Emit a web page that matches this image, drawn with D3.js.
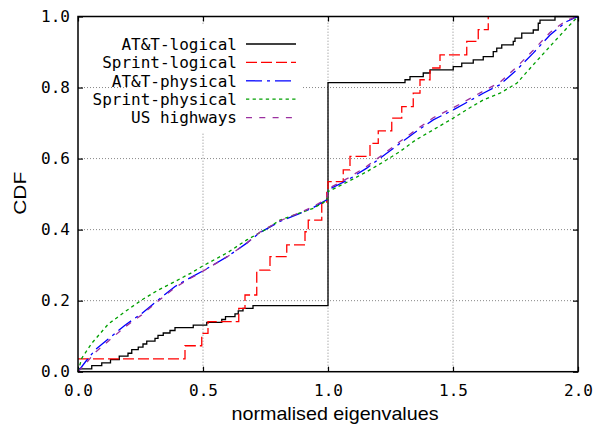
<!DOCTYPE html>
<html><head><meta charset="utf-8">
<script src="https://cdn.jsdelivr.net/npm/d3@7"></script>
<style>
html,body{margin:0;padding:0;background:#fff;}
svg{display:block;}
</style>
</head><body>
<svg id="chart" width="607" height="426"></svg>
<script>
// ---- data ----
const seriesNames = ["AT&T-logical", "Sprint-logical", "AT&T-physical", "Sprint-physical", "US highways"];
const xTickValues = [0, 0.5, 1.0, 1.5, 2.0];
const xTickLabels = ["0.0", "0.5", "1.0", "1.5", "2.0"];
const yTickValues = [0, 0.2, 0.4, 0.6, 0.8, 1.0];
const yTickLabels = ["0.0", "0.2", "0.4", "0.6", "0.8", "1.0"];
const xTitle = "normalised eigenvalues";
const yTitle = "CDF";

// AT&T-logical (step CDF)
const attLogicalX = [0, 0.055, 0.095, 0.13, 0.165, 0.2, 0.215, 0.241, 0.26, 0.275, 0.308, 0.32, 0.341, 0.368, 0.388, 0.461, 0.515, 0.575, 0.59, 0.628, 0.641, 0.66, 0.70, 1.0, 1.308, 1.328, 1.381, 1.408, 1.501, 1.535, 1.581, 1.621, 1.661, 1.675, 1.695, 1.741, 1.748, 1.775, 1.821, 1.841, 1.848, 1.908, 2.0];
const attLogicalY = [0.008, 0.017, 0.025, 0.034, 0.044, 0.052, 0.062, 0.069, 0.078, 0.086, 0.094, 0.102, 0.109, 0.116, 0.124, 0.131, 0.139, 0.147, 0.155, 0.163, 0.171, 0.178, 0.186, 0.814, 0.822, 0.831, 0.841, 0.85, 0.859, 0.869, 0.878, 0.887, 0.901, 0.911, 0.92, 0.93, 0.939, 0.953, 0.962, 0.981, 0.99, 1.0, 1.0];

// Sprint-logical (step CDF)
const sprintLogicalX = [0, 0.428, 0.495, 0.52, 0.643, 0.668, 0.715, 0.768, 0.835, 0.908, 0.921, 0.975, 0.995, 1.0, 1.061, 1.088, 1.168, 1.201, 1.255, 1.295, 1.341, 1.368, 1.408, 1.448, 1.555, 1.601, 1.641];
const sprintLogicalY = [0.036, 0.073, 0.108, 0.141, 0.178, 0.216, 0.286, 0.324, 0.357, 0.394, 0.427, 0.474, 0.512, 0.535, 0.568, 0.606, 0.643, 0.678, 0.714, 0.746, 0.784, 0.822, 0.855, 0.892, 0.93, 0.963, 1.0];

// AT&T-physical
const attPhysicalX = [0, 0.03, 0.068, 0.121, 0.188, 0.255, 0.321, 0.388, 0.45, 0.5, 0.6, 0.675, 0.728, 0.808, 0.888, 0.941, 0.995, 1.0, 1.08, 1.155, 1.22, 1.288, 1.35, 1.421, 1.501, 1.56, 1.621, 1.688, 1.755, 1.821, 1.888, 1.955, 2.0];
const attPhysicalY = [0.0, 0.028, 0.061, 0.092, 0.131, 0.164, 0.202, 0.24, 0.265, 0.284, 0.325, 0.362, 0.392, 0.423, 0.446, 0.462, 0.484, 0.512, 0.54, 0.573, 0.607, 0.643, 0.675, 0.709, 0.737, 0.76, 0.784, 0.808, 0.85, 0.897, 0.948, 0.986, 1.0];

// Sprint-physical
const sprintPhysicalX = [0, 0.015, 0.055, 0.121, 0.188, 0.255, 0.321, 0.388, 0.45, 0.5, 0.6, 0.675, 0.75, 0.808, 0.88, 0.941, 0.995, 1.0, 1.08, 1.155, 1.22, 1.288, 1.35, 1.421, 1.501, 1.56, 1.621, 1.688, 1.755, 1.821, 1.888, 1.955, 2.0];
const sprintPhysicalY = [0, 0.038, 0.08, 0.134, 0.169, 0.202, 0.23, 0.254, 0.277, 0.298, 0.336, 0.371, 0.4, 0.427, 0.445, 0.46, 0.482, 0.507, 0.535, 0.563, 0.59, 0.62, 0.652, 0.681, 0.714, 0.74, 0.765, 0.784, 0.812, 0.864, 0.916, 0.967, 1.0];

// US highways
const usHighwaysX = [0, 0.03, 0.068, 0.121, 0.188, 0.255, 0.321, 0.388, 0.45, 0.5, 0.6, 0.675, 0.728, 0.808, 0.888, 0.941, 0.995, 1.0, 1.08, 1.155, 1.22, 1.288, 1.35, 1.421, 1.501, 1.56, 1.621, 1.688, 1.755, 1.821, 1.888, 1.955, 2.0];
const usHighwaysY = [0, 0.022, 0.054, 0.086, 0.126, 0.16, 0.199, 0.237, 0.263, 0.283, 0.325, 0.362, 0.393, 0.425, 0.448, 0.465, 0.487, 0.515, 0.545, 0.578, 0.612, 0.648, 0.68, 0.715, 0.743, 0.766, 0.79, 0.815, 0.858, 0.905, 0.955, 0.99, 1.0];

// ---- styling ----
const styles = [
  {color: "#000000", dash: null, step: true},
  {color: "#ff0000", dash: "11,4", step: true},
  {color: "#0000ff", dash: "16,5,3,5", step: false},
  {color: "#00a000", dash: "3.3,3.3", step: false},
  {color: "#9b30a0", dash: "6,7.3", step: false}
];
const seriesData = [
  [attLogicalX, attLogicalY],
  [sprintLogicalX, sprintLogicalY],
  [attPhysicalX, attPhysicalY],
  [sprintPhysicalX, sprintPhysicalY],
  [usHighwaysX, usHighwaysY]
];

const monoFont = "'DejaVu Sans Mono', monospace";
const sansFont = "'Liberation Sans', Arial, sans-serif";

const svg = d3.select("#chart");
const x = d3.scaleLinear().domain([0, 2]).range([78, 578]);
const y = d3.scaleLinear().domain([0, 1]).range([371.7, 16.5]);

// grid
const grid = svg.append("g");
grid.selectAll("line.gx").data(xTickValues.slice(1, -1)).join("line")
  .attr("x1", d => x(d)).attr("x2", d => x(d))
  .attr("y1", y(0)).attr("y2", y(1))
  .attr("stroke", "#888").attr("stroke-width", 1).attr("stroke-dasharray", "1,2");
grid.selectAll("line.gy").data(yTickValues.slice(1, -1)).join("line")
  .attr("x1", x(0)).attr("x2", x(2))
  .attr("y1", d => y(d)).attr("y2", d => y(d))
  .attr("stroke", "#888").attr("stroke-width", 1).attr("stroke-dasharray", "1,2");

// opaque legend box
svg.append("rect").attr("x", 127).attr("y", 25).attr("width", 176).attr("height", 107).attr("fill", "#fff");

// axes
const xAxisB = d3.axisBottom(x).tickValues(xTickValues).tickFormat((d, i) => xTickLabels[i]).tickSize(-5).tickPadding(13);
const xAxisT = d3.axisTop(x).tickValues(xTickValues).tickFormat("").tickSize(-5);
const yAxisL = d3.axisLeft(y).tickValues(yTickValues).tickFormat((d, i) => yTickLabels[i]).tickSize(-5).tickPadding(8);
const yAxisR = d3.axisRight(y).tickValues(yTickValues).tickFormat("").tickSize(-5);

function styleAxis(g) {
  g.select(".domain").remove();
  g.selectAll(".tick line").attr("stroke", "#000").attr("stroke-width", 1.2);
  g.selectAll(".tick text").attr("font-family", monoFont).attr("font-size", 16).attr("fill", "#000");
}
svg.append("g").attr("transform", `translate(0,${y(0)})`).call(xAxisB).call(styleAxis);
svg.append("g").attr("transform", `translate(0,${y(1)})`).call(xAxisT).call(styleAxis);
svg.append("g").attr("transform", `translate(${x(0)},0)`).call(yAxisL).call(styleAxis);
svg.append("g").attr("transform", `translate(${x(2)},0)`).call(yAxisR).call(styleAxis);

// clip
svg.append("clipPath").attr("id", "plotclip").append("rect")
  .attr("x", x(0) - 1).attr("y", y(1) - 1).attr("width", x(2) - x(0) + 2).attr("height", y(0) - y(1) + 2);

// curves
const plot = svg.append("g").attr("clip-path", "url(#plotclip)");
seriesData.forEach((s, i) => {
  const pts = s[0].map((xv, j) => [xv, s[1][j]]);
  const line = d3.line().x(d => x(d[0])).y(d => y(d[1]))
    .curve(styles[i].step ? d3.curveStepAfter : d3.curveLinear);
  plot.append("path").datum(pts)
    .attr("d", line)
    .attr("fill", "none")
    .attr("stroke", styles[i].color)
    .attr("stroke-width", 1.3)
    .attr("stroke-dasharray", styles[i].dash);
});

// border
svg.append("rect").attr("x", x(0)).attr("y", y(1)).attr("width", x(2) - x(0)).attr("height", y(0) - y(1))
  .attr("fill", "none").attr("stroke", "#000").attr("stroke-width", 1.5);

// legend
const legend = svg.append("g");
seriesNames.forEach((name, i) => {
  const cy = 44 + i * 18.4;
  legend.append("text").attr("x", 237).attr("y", cy + 5.8)
    .attr("text-anchor", "end").attr("font-family", monoFont).attr("font-size", 16).attr("fill", "#000")
    .text(name);
  legend.append("line").attr("x1", 246).attr("x2", 296).attr("y1", cy).attr("y2", cy)
    .attr("stroke", styles[i].color).attr("stroke-width", 1.3)
    .attr("stroke-dasharray", styles[i].dash);
});

// titles
svg.append("text").attr("x", 335).attr("y", 420).attr("text-anchor", "middle")
  .attr("font-family", sansFont).attr("font-size", 18.5)
  .attr("textLength", 207).attr("lengthAdjust", "spacingAndGlyphs")
  .text(xTitle);
svg.append("text").attr("transform", "translate(26,193.3) rotate(-90)").attr("text-anchor", "middle")
  .attr("font-family", sansFont).attr("font-size", 17)
  .attr("textLength", 43).attr("lengthAdjust", "spacingAndGlyphs")
  .text(yTitle);
</script>
</body></html>
